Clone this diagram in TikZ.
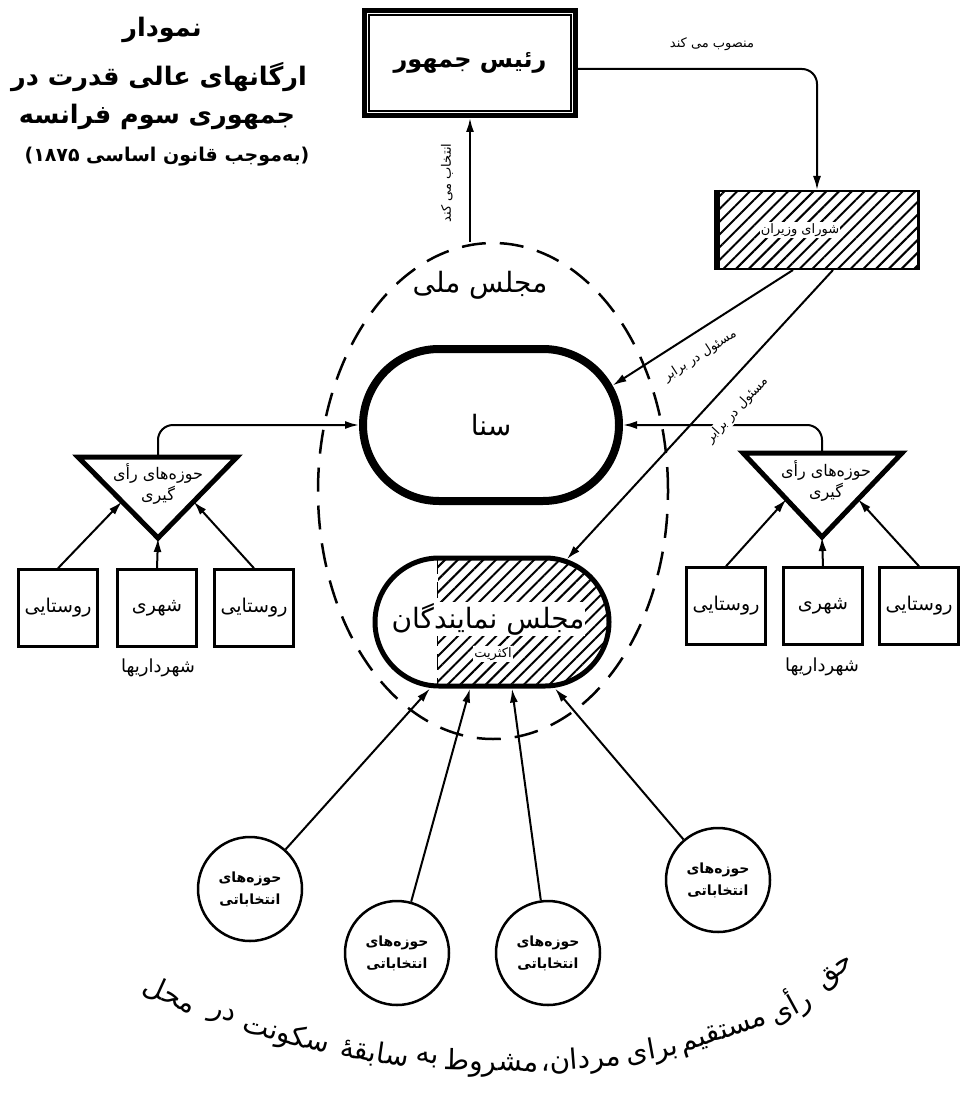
\documentclass[tikz,border=0pt]{standalone}
\usepackage{fontspec}
\newfontfamily\arabicfont[Script=Arabic]{DejaVu Sans}
\TeXXeTstate=1
\newcommand{\fatext}[1]{\beginR #1\endR}
\usetikzlibrary{positioning,calc,arrows.meta,shapes.geometric,shapes.misc,patterns.meta,decorations.markings}

\begin{document}
\begin{tikzpicture}[
		x=1pt, y=-1pt,
		every node/.style={font=\arabicfont, inner sep=2pt},
		arr/.style={draw=black, line width=2pt, -{Latex[length=14pt,width=8pt]}},
		lbl/.style={font=\arabicfont\fontsize{13}{15}\selectfont},
		titlebig/.style={font=\arabicfont\bfseries\fontsize{25.5}{30}\selectfont},
		titlesmall/.style={font=\arabicfont\bfseries\fontsize{19}{22}\selectfont},
		big/.style={font=\arabicfont\fontsize{28}{32}\selectfont},
		hatch/.style={pattern={Lines[angle=45,distance=9pt,line width=2pt]}},
		presbox/.style={draw, line width=5pt, minimum width=211pt, minimum height=105pt, font=\arabicfont\bfseries\fontsize{24}{28}\selectfont},
		minbox/.style={draw, line width=2.5pt, minimum width=203pt, minimum height=78pt, hatch},
		natl/.style={draw, ellipse, dash pattern=on 24pt off 14pt, line width=2.5pt, minimum width=350pt, minimum height=496pt},
		senate/.style={draw, rounded rectangle, line width=8pt, minimum width=260pt, minimum height=152pt, font=\arabicfont\fontsize{28}{32}\selectfont},
		chamber/.style={draw, rounded rectangle, line width=5pt, minimum width=238pt, minimum height=128pt, hatch},
		tri/.style={draw, line width=5pt},
		tritext/.style={align=center, font=\arabicfont\fontsize{16}{21}\selectfont},
		ward/.style={draw, line width=2.5pt, minimum width=79pt, minimum height=77pt, font=\arabicfont\fontsize{19}{22}\selectfont},
		mun/.style={font=\arabicfont\fontsize{18}{20}\selectfont},
		dist/.style={draw, circle, line width=2.5pt, minimum size=104pt, align=center, font=\arabicfont\bfseries\fontsize{14}{22}\selectfont},
		curve/.style={font=\arabicfont\fontsize{28}{30}\selectfont, inner sep=0pt, transform shape}
	]
	\useasboundingbox (0,0) rectangle (960,1094);
	
	% عنوان
	\node[titlebig] (ttl1) at (162,30) {\fatext{نمودار}};
	\node[titlebig] (ttl2) at (159,77) {\fatext{ارگانهای عالی قدرت در}};
	\node[titlebig] (ttl3) at (157,117) {\fatext{جمهوری سوم فرانسه}};
	\node[titlesmall] (ttl4) at (167,157) {\fatext{(به‌موجب قانون اساسی ۱۸۷۵)}};
	
	% رئیس جمهور و شورای وزیران
	\node[presbox] (pres) at (470,63) {\fatext{رئیس جمهور}};
	\draw[line width=1.6pt] ([shift={(7pt,-7pt)}]pres.north west) rectangle ([shift={(-7pt,7pt)}]pres.south east);
	\node[minbox] (mins) at (817,230) {};
	\draw[line width=6pt] ([xshift=2pt]mins.north west) -- ([xshift=2pt]mins.south west);
	\node[lbl, fill=white, inner sep=1pt] (minsname) at (800,230) {\fatext{شورای وزیران}};
	\draw[arr, rounded corners=15pt] ([yshift=-6pt]pres.east) -| (mins.north);
	\node[lbl] (appoint) at (712,44) {\fatext{منصوب می کند}};
	
	% مجلس ملی
	\node[natl] (nat) at (493,491) {};
	\node[big] (natname) at (480,285) {\fatext{مجلس ملی}};
	\draw[arr] (pres.south |- nat.north) -- (pres.south);
	\node[lbl, rotate=90] (elect) at (447,183) {\fatext{انتخاب می کند}};
	
	\node[senate] (sen) at (491,425) {\fatext{سنا}};
	\node[chamber, path picture={
			\fill[white] (path picture bounding box.north west) rectangle ([xshift=62.5pt]path picture bounding box.south west);
			\draw[line width=1.5pt, dash pattern=on 16pt off 8pt] ([xshift=62.5pt]path picture bounding box.north west) -- ([xshift=62.5pt]path picture bounding box.south west);
		}] (cham) at (492,622) {};
	\node[big, fill=white, inner sep=1pt] (chamname) at (488,619) {\fatext{مجلس نمایندگان}};
	\node[lbl, fill=white, inner sep=1pt] (chammaj) at (493,654) {\fatext{اکثریت}};
	
	% مسئول در برابر
	\draw[arr] ([xshift=-24pt]mins.south) -- (sen.18);
	\draw[arr] ([xshift=16pt]mins.south) -- (cham.40);
	\node[lbl, rotate=33] (resp1) at (700,356) {\fatext{مسئول در برابر}};
	
	% حوزه‌های رأی‌گیری سنا، چپ
	\coordinate (ltl) at (78,457);
	\coordinate (ltr) at (237,457);
	\coordinate (ltb) at (158,538);
	\coordinate (ltop) at (158,457);
	\draw[tri] (ltl) -- (ltr) -- (ltb) -- cycle;
	\node[tritext] (lpoll) at (158,484) {\fatext{حوزه‌های رأی}\\\fatext{گیری}};
	\node[ward] (lb1) at (58,608) {\fatext{روستایی}};
	\node[ward] (lb2) at (157,608) {\fatext{شهری}};
	\node[ward] (lb3) at (254,608) {\fatext{روستایی}};
	\node[mun] (lmun) at (158,668) {\fatext{شهرداریها}};
	\draw[arr] (lb1.north) -- ($(ltl)!.55!(ltb)$);
	\draw[arr] (lb2.north) -- (ltb);
	\draw[arr] (lb3.north) -- ($(ltr)!.55!(ltb)$);
	\draw[arr, rounded corners=15pt] (ltop) |- (sen.west);
	
	% حوزه‌های رأی‌گیری سنا، راست
	\coordinate (rtl) at (743,453);
	\coordinate (rtr) at (902,453);
	\coordinate (rtb) at (822,537);
	\coordinate (rtop) at (822,453);
	\draw[tri] (rtl) -- (rtr) -- (rtb) -- cycle;
	\node[tritext] (rpoll) at (826,481) {\fatext{حوزه‌های رأی}\\\fatext{گیری}};
	\node[ward] (rb1) at (726,606) {\fatext{روستایی}};
	\node[ward] (rb2) at (823,606) {\fatext{شهری}};
	\node[ward] (rb3) at (919,606) {\fatext{روستایی}};
	\node[mun] (rmun) at (822,667) {\fatext{شهرداریها}};
	\draw[arr] (rb1.north) -- ($(rtl)!.55!(rtb)$);
	\draw[arr] (rb2.north) -- (rtb);
	\draw[arr] (rb3.north) -- ($(rtr)!.55!(rtb)$);
	\draw[arr, rounded corners=15pt] (rtop) |- (sen.east);
	\node[lbl, rotate=47, fill=white, inner sep=1pt] (resp2) at (737,410) {\fatext{مسئول در برابر}};
	
	% حوزه‌های انتخاباتی
	\node[dist] (c1) at (250,889) {\fatext{حوزه‌های}\\\fatext{انتخاباتی}};
	\node[dist] (c2) at (397,953) {\fatext{حوزه‌های}\\\fatext{انتخاباتی}};
	\node[dist] (c3) at (548,953) {\fatext{حوزه‌های}\\\fatext{انتخاباتی}};
	\node[dist] (c4) at (718,880) {\fatext{حوزه‌های}\\\fatext{انتخاباتی}};
	\draw[arr] (c1) -- ([xshift=-62pt]cham.south);
	\draw[arr] (c2) -- ([xshift=-22pt]cham.south);
	\draw[arr] (c3) -- ([xshift=20pt]cham.south);
	\draw[arr] (c4) -- ([xshift=63pt]cham.south);
	
	% حق رأی، روی کمان
	\path[decorate, decoration={markings,
			mark=at position 45pt with {\node[curve] (w11) {\fatext{محل}};},
			mark=at position 101pt with {\node[curve] (w10) {\fatext{در}};},
			mark=at position 168pt with {\node[curve] (w9) {\fatext{سکونت}};},
			mark=at position 258pt with {\node[curve] (w8) {\fatext{سابقهٔ}};},
			mark=at position 311pt with {\node[curve] (w7) {\fatext{به}};},
			mark=at position 375pt with {\node[curve] (w6) {\fatext{مشروط}};},
			mark=at position 465pt with {\node[curve] (w5) {\fatext{مردان،}};},
			mark=at position 537pt with {\node[curve] (w4) {\fatext{برای}};},
			mark=at position 611pt with {\node[curve] (w3) {\fatext{مستقیم}};},
			mark=at position 682pt with {\node[curve] (w2) {\fatext{رأی}};},
			mark=at position 740pt with {\node[curve] (w1) {\fatext{حق}};}
		}] (130,975) .. controls (330,1090) and (730,1105) .. (860,950);
\end{tikzpicture}
\end{document}
